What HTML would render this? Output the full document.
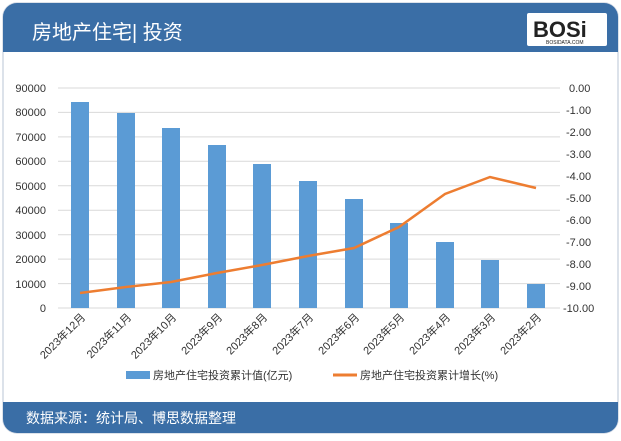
<!DOCTYPE html>
<html><head><meta charset="utf-8"><style>
body{margin:0;width:621px;height:436px;background:#fff;overflow:hidden;font-family:"Liberation Sans","Noto Sans CJK SC",sans-serif}
</style></head><body>
<svg width="621" height="436" xmlns="http://www.w3.org/2000/svg" font-family="Liberation Sans, Noto Sans CJK SC, sans-serif">
<rect x="3" y="3" width="615" height="430" rx="14" fill="#fff" stroke="#d0d8e4" stroke-width="1.5"/>
<path d="M3 52 V17 a14 14 0 0 1 14 -14 H604 a14 14 0 0 1 14 14 V52 Z" fill="#3a6ea6"/>
<text x="32" y="39" font-size="20" fill="#fff">房地产住宅| 投资</text>
<rect x="527" y="13" width="80" height="33" fill="#fff" rx="2"/>
<text x="533" y="37" font-size="22" font-weight="bold" fill="#222">BOSi</text>
<text x="546" y="44" font-size="5" fill="#222">BOSIDATA.COM</text>
<path d="M3 402 H618 V419 a14 14 0 0 1 -14 14 H17 a14 14 0 0 1 -14 -14 Z" fill="#3a6ea6"/>
<text x="26" y="423" font-size="14" fill="#fff">数据来源：统计局、博思数据整理</text>
<g stroke="#d9d9d9" stroke-width="1">
<line x1="58" y1="88" x2="560" y2="88"/><line x1="58" y1="112.4" x2="560" y2="112.4"/><line x1="58" y1="136.9" x2="560" y2="136.9"/><line x1="58" y1="161.3" x2="560" y2="161.3"/><line x1="58" y1="185.8" x2="560" y2="185.8"/><line x1="58" y1="210.2" x2="560" y2="210.2"/><line x1="58" y1="234.7" x2="560" y2="234.7"/><line x1="58" y1="259.1" x2="560" y2="259.1"/><line x1="58" y1="283.6" x2="560" y2="283.6"/><line x1="58" y1="308" x2="560" y2="308"/>
</g>
<g font-size="11" fill="#333" text-anchor="end">
<text x="46" y="92">90000</text><text x="46" y="116">80000</text><text x="46" y="141">70000</text><text x="46" y="165">60000</text><text x="46" y="190">50000</text><text x="46" y="214">40000</text><text x="46" y="239">30000</text><text x="46" y="263">20000</text><text x="46" y="288">10000</text><text x="46" y="312">0</text>
</g>
<g font-size="11" fill="#333">
<text x="569" y="92">0.00</text><text x="566" y="114">-1.00</text><text x="566" y="136">-2.00</text><text x="566" y="158">-3.00</text><text x="566" y="180">-4.00</text><text x="566" y="202">-5.00</text><text x="566" y="224">-6.00</text><text x="566" y="246">-7.00</text><text x="566" y="268">-8.00</text><text x="566" y="290">-9.00</text><text x="563" y="312">-10.00</text>
</g>
<g fill="#5b9bd5">
<rect x="71" y="102" width="18" height="206"/>
<rect x="117" y="113" width="18" height="195"/>
<rect x="162" y="128" width="18" height="180"/>
<rect x="208" y="145" width="18" height="163"/>
<rect x="253" y="164" width="18" height="144"/>
<rect x="299" y="181" width="18" height="127"/>
<rect x="345" y="199" width="18" height="109"/>
<rect x="390" y="223" width="18" height="85"/>
<rect x="436" y="242" width="18" height="66"/>
<rect x="481" y="260" width="18" height="48"/>
<rect x="527" y="284" width="18" height="24"/>
</g>
<polyline fill="none" stroke="#ed7d31" stroke-width="2.5" points="80,293 126,287 171,282 217,273 262,265 308,256 354,248 399,227 445,194 490,177 536,188"/>
<g font-size="11" fill="#333" text-anchor="end">
<text transform="translate(86,318) rotate(-45)">2023年12月</text>
<text transform="translate(132,318) rotate(-45)">2023年11月</text>
<text transform="translate(177,318) rotate(-45)">2023年10月</text>
<text transform="translate(223,318) rotate(-45)">2023年9月</text>
<text transform="translate(268,318) rotate(-45)">2023年8月</text>
<text transform="translate(314,318) rotate(-45)">2023年7月</text>
<text transform="translate(360,318) rotate(-45)">2023年6月</text>
<text transform="translate(405,318) rotate(-45)">2023年5月</text>
<text transform="translate(451,318) rotate(-45)">2023年4月</text>
<text transform="translate(496,318) rotate(-45)">2023年3月</text>
<text transform="translate(542,318) rotate(-45)">2023年2月</text>
</g>
<rect x="126" y="371" width="24" height="8" fill="#5b9bd5"/>
<text x="153" y="379" font-size="11" fill="#333">房地产住宅投资累计值(亿元)</text>
<line x1="333" y1="375" x2="357" y2="375" stroke="#ed7d31" stroke-width="3"/>
<text x="360" y="379" font-size="11" fill="#333">房地产住宅投资累计增长(%)</text>
</svg>
</body></html>
